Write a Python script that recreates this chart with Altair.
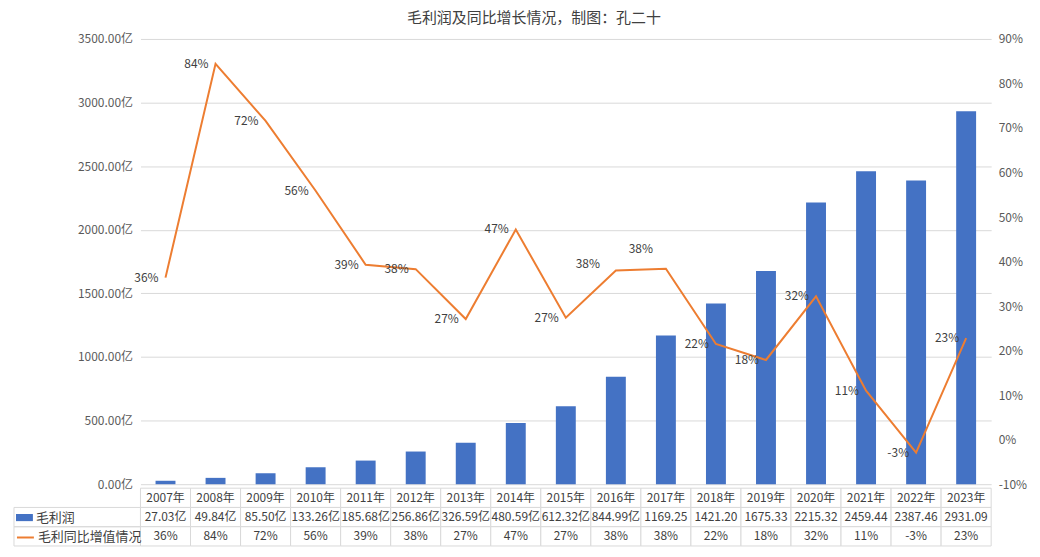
import altair as alt
import pandas as pd

FONT = "Noto Sans CJK SC"

# data
years = ["2007年", "2008年", "2009年", "2010年", "2011年", "2012年", "2013年", "2014年", "2015年",
         "2016年", "2017年", "2018年", "2019年", "2020年", "2021年", "2022年", "2023年"]
profit = [27.03, 49.84, 85.50, 133.26, 185.68, 256.86, 326.59, 480.59, 612.32,
          844.99, 1169.25, 1421.20, 1675.33, 2215.32, 2459.44, 2387.46, 2931.09]
growth = [36.4, 84.4, 71.6, 55.9, 39.3, 38.3, 27.1, 47.2, 27.4,
          38.0, 38.4, 21.5, 17.9, 32.2, 11.0, -2.9, 22.8]
growth_shown = [36, 84, 72, 56, 39, 38, 27, 47, 27, 38, 38, 22, 18, 32, 11, -3, 23]
profit_shown = ["27.03亿", "49.84亿", "85.50亿", "133.26亿", "185.68亿", "256.86亿", "326.59亿",
                "480.59亿", "612.32亿", "844.99亿", "1169.25", "1421.20", "1675.33", "2215.32",
                "2459.44", "2387.46", "2931.09"]
row_names = ["年份", "毛利润", "毛利同比增值情况"]

W, H = 854, 447
TABLE_H = 58
LEFT_COL = 127

df = pd.DataFrame({
    "year": years,
    "profit": profit,
    "growth": growth,
    "glabel": [f"{g}%" for g in growth_shown],
    "bar_key": row_names[1],
    "line_key": row_names[2],
})

table_df = pd.DataFrame({
    "year": years * 3,
    "row": [r for r in row_names for _ in years],
    "text": years + profit_shown + [f"{g}%" for g in growth_shown],
})

x_enc = alt.X("year:N", sort=years, axis=None,
              scale=alt.Scale(paddingInner=0, paddingOuter=0))
g_scale = alt.Scale(domain=[-10, 90], nice=False)

bars = alt.Chart(df).mark_bar(size=20).encode(
    x=x_enc,
    y=alt.Y("profit:Q", scale=alt.Scale(domain=[0, 3500], nice=False),
            axis=alt.Axis(values=list(range(0, 3501, 500)), title=None, domain=False, ticks=False,
                          labelExpr="format(datum.value, '.2f') + '亿'", labelPadding=8,
                          gridColor="#d9d9d9")),
    color=alt.Color("bar_key:N", scale=alt.Scale(range=["#4472C4"]),
                    legend=alt.Legend(title=None, orient="none", legendX=-LEFT_COL + 2, legendY=472,
                                      symbolType="M-1,-0.42H1V0.42H-1Z", symbolSize=289,
                                      symbolStrokeWidth=0, padding=0, labelOffset=3)),
)

line = alt.Chart(df).mark_line(strokeWidth=2).encode(
    x=x_enc,
    y=alt.Y("growth:Q", scale=g_scale,
            axis=alt.Axis(orient="right", values=list(range(-10, 91, 10)), title=None,
                          domain=False, ticks=False, grid=False, labelPadding=7,
                          labelExpr="datum.value + '%'")),
    stroke=alt.Stroke("line_key:N", scale=alt.Scale(range=["#ED7D31"]),
                      legend=alt.Legend(title=None, orient="none", legendX=-LEFT_COL + 2, legendY=491,
                                        symbolType="stroke", symbolSize=289, symbolStrokeWidth=2,
                                        padding=0, labelOffset=3)),
)

lab_y = alt.Y("growth:Q", scale=g_scale, axis=None)
labels = alt.Chart(df).mark_text(align="right", baseline="middle", fontSize=12,
                                 color="#404040", dx=-7).transform_filter(
    "datum.year != '2016年' && datum.year != '2017年'"
).encode(x=x_enc, y=lab_y, text="glabel:N")
lab_2016 = alt.Chart(df).mark_text(align="right", baseline="middle", fontSize=12,
                                   color="#404040", dx=-16, dy=-6).transform_filter(
    "datum.year == '2016年'").encode(x=x_enc, y=lab_y, text="glabel:N")
lab_2017 = alt.Chart(df).mark_text(align="right", baseline="middle", fontSize=12,
                                   color="#404040", dx=-13, dy=-20).transform_filter(
    "datum.year == '2017年'").encode(x=x_enc, y=lab_y, text="glabel:N")

top = alt.layer(bars, line, labels, lab_2016, lab_2017).resolve_scale(
    y="independent").properties(width=W, height=H)

# table under the plot: one column per year, borders drawn by the cells
row_y = alt.Y("row:N", sort=row_names, axis=None,
              scale=alt.Scale(paddingInner=0, paddingOuter=0))

cells = alt.Chart(table_df).mark_rect(fill="white", stroke="#d9d9d9", strokeWidth=1).encode(
    x=alt.X("year:N", sort=years, axis=None), y=row_y)
cell_text = alt.Chart(table_df).mark_text(fontSize=12, color="#404040").encode(
    x=alt.X("year:N", sort=years, axis=None), y=row_y, text="text:N")

# cells of the legend column at the left of the table (series rows only)
left_cells = alt.Chart(table_df).transform_filter(
    "datum.year == '2007年' && datum.row != '年份'"
).mark_rect(fill="transparent", stroke="#d9d9d9", strokeWidth=1).encode(
    x=alt.value(-LEFT_COL), x2=alt.value(0), y=row_y)

table = alt.layer(cells, cell_text, left_cells).properties(width=W, height=TABLE_H)

chart = alt.vconcat(top, table, spacing=4, bounds="flush").resolve_scale(x="shared").properties(
    title=alt.Title("毛利润及同比增长情况，制图：孔二十", fontSize=15, fontWeight="normal",
                    color="#404040", anchor="middle", offset=7, dx=14),
    padding={"left": 5, "top": 2, "right": 5, "bottom": 5},
).configure(font=FONT).configure_axis(
    labelFont=FONT, labelFontSize=12, labelColor="#595959"
).configure_legend(labelFont=FONT, labelFontSize=13, labelColor="#404040").configure_view(
    stroke=None)

chart.save("out.html", embed_options={"renderer": "svg", "actions": False})
